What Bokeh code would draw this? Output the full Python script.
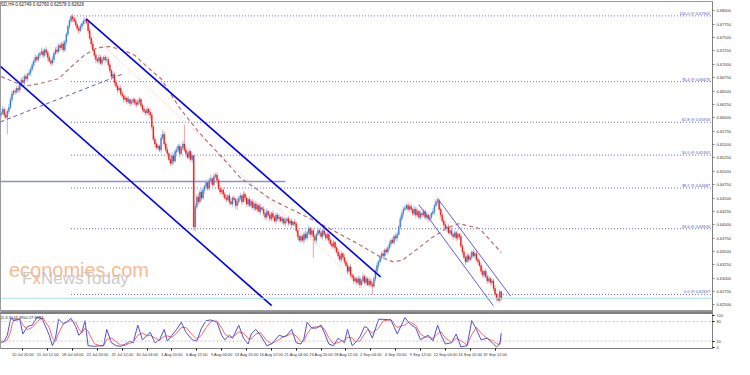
from bokeh.plotting import figure
from bokeh.layouts import column
from bokeh.models import (Range1d, FixedTicker, ColumnDataSource, NumeralTickFormatter,
                          BoxAnnotation, Span)
from bokeh.embed import file_html
from bokeh.resources import INLINE
from bokeh.core.properties import value

# ---------------- data (NZDUSD H4) ----------------
first_open = 0.6605
close = [
    0.6609, 0.6616, 0.6605, 0.6601, 0.6612, 0.6619, 0.6634, 0.6645, 0.6650, 0.6648,
    0.6655, 0.6652, 0.6663, 0.6670, 0.6666, 0.6677, 0.6673, 0.6681, 0.6684, 0.6691,
    0.6699, 0.6706, 0.6713, 0.6709, 0.6717, 0.6720, 0.6724, 0.6717, 0.6727, 0.6722,
    0.6713, 0.6706, 0.6702, 0.6709, 0.6720, 0.6727, 0.6724, 0.6735, 0.6731, 0.6738,
    0.6727, 0.6742, 0.6756, 0.6771, 0.6781, 0.6789, 0.6785, 0.6781, 0.6774, 0.6767,
    0.6763, 0.6771, 0.6776, 0.6781, 0.6783, 0.6778, 0.6763, 0.6749, 0.6738, 0.6727,
    0.6717, 0.6709, 0.6706, 0.6713, 0.6702, 0.6709, 0.6713, 0.6708, 0.6709, 0.6699,
    0.6688, 0.6677, 0.6681, 0.6666, 0.6659, 0.6652, 0.6655, 0.6645, 0.6641, 0.6634,
    0.6637, 0.6630, 0.6634, 0.6627, 0.6630, 0.6634, 0.6628, 0.6625, 0.6630, 0.6634,
    0.6623, 0.6616, 0.6612, 0.6609, 0.6616, 0.6610, 0.6605, 0.6583, 0.6560, 0.6551,
    0.6544, 0.6547, 0.6540, 0.6562, 0.6569, 0.6551, 0.6540, 0.6533, 0.6522, 0.6515,
    0.6529, 0.6519, 0.6537, 0.6540, 0.6547, 0.6533, 0.6544, 0.6551, 0.6540, 0.6533,
    0.6526, 0.6537, 0.6522, 0.6529, 0.6396, 0.6434, 0.6452, 0.6443, 0.6461, 0.6450,
    0.6465, 0.6472, 0.6479, 0.6468, 0.6483, 0.6486, 0.6475, 0.6490, 0.6493, 0.6483,
    0.6468, 0.6461, 0.6465, 0.6457, 0.6450, 0.6447, 0.6454, 0.6443, 0.6439, 0.6450,
    0.6447, 0.6436, 0.6443, 0.6450, 0.6454, 0.6443, 0.6457, 0.6450, 0.6439, 0.6447,
    0.6436, 0.6443, 0.6432, 0.6439, 0.6429, 0.6436, 0.6425, 0.6432, 0.6429, 0.6421,
    0.6414, 0.6425, 0.6418, 0.6411, 0.6421, 0.6414, 0.6407, 0.6418, 0.6411, 0.6414,
    0.6407, 0.6411, 0.6403, 0.6407, 0.6411, 0.6403, 0.6407, 0.6400, 0.6405, 0.6402,
    0.6389, 0.6378, 0.6371, 0.6378, 0.6371, 0.6382, 0.6375, 0.6385, 0.6393, 0.6382,
    0.6389, 0.6378, 0.6371, 0.6382, 0.6389, 0.6385, 0.6378, 0.6389, 0.6382, 0.6375,
    0.6382, 0.6371, 0.6364, 0.6360, 0.6367, 0.6357, 0.6349, 0.6342, 0.6335, 0.6346,
    0.6339, 0.6331, 0.6324, 0.6313, 0.6321, 0.6306, 0.6303, 0.6295, 0.6299, 0.6292,
    0.6299, 0.6288, 0.6295, 0.6303, 0.6292, 0.6299, 0.6288, 0.6295, 0.6288, 0.6285,
    0.6299, 0.6313, 0.6324, 0.6331, 0.6339, 0.6346, 0.6342, 0.6353, 0.6349, 0.6357,
    0.6364, 0.6371, 0.6367, 0.6378, 0.6375, 0.6382, 0.6396, 0.6411, 0.6421, 0.6429,
    0.6432, 0.6436, 0.6429, 0.6434, 0.6429, 0.6421, 0.6429, 0.6418, 0.6425, 0.6414,
    0.6421, 0.6418, 0.6425, 0.6414, 0.6418, 0.6411, 0.6414, 0.6421, 0.6425, 0.6436,
    0.6443, 0.6445, 0.6429, 0.6418, 0.6407, 0.6400, 0.6393, 0.6396, 0.6385, 0.6389,
    0.6382, 0.6378, 0.6385, 0.6375, 0.6382, 0.6378, 0.6360, 0.6349, 0.6339, 0.6331,
    0.6342, 0.6335, 0.6339, 0.6349, 0.6342, 0.6346, 0.6335, 0.6331, 0.6324, 0.6313,
    0.6306, 0.6313, 0.6303, 0.6295, 0.6299, 0.6292, 0.6295, 0.6281, 0.6270, 0.6263,
    0.6259, 0.62749, 0.62626,
]
upper_wick_pips = [
    4, 6, 3, 5, 4, 7, 5, 6, 3, 5, 4, 6, 3, 5, 7, 4, 5, 3, 6, 4,
    5, 4, 6, 3, 5, 4, 7, 5, 3, 6, 4, 5, 3, 6, 4, 5, 7, 3, 5, 4,
    6, 4, 5, 3, 4, 1.5, 5, 4, 6, 3, 5, 4, 3, 5, 6, 4, 3, 5, 4, 6,
    4, 5, 3, 6, 4, 5, 3, 4, 6, 5, 4, 3, 6, 4, 5, 3, 4, 6, 5, 3,
    5, 4, 6, 3, 5, 4, 3, 6, 4, 5, 3, 4, 6, 4, 5, 3, 6, 5, 4, 6,
    4, 5, 3, 6, 8, 5, 4, 6, 3, 5, 7, 4, 5, 6, 4, 5, 3, 6, 36, 5,
    4, 6, 3, 5, 2, 6, 5, 7, 4, 6, 5, 3, 6, 4, 5, 7, 3, 6, 4, 5,
    4, 6, 3, 5, 4, 6, 3, 5, 7, 4, 5, 3, 6, 4, 5, 3, 6, 4, 5, 3,
    6, 4, 5, 3, 6, 4, 5, 7, 3, 5, 4, 6, 3, 5, 4, 6, 3, 5, 4, 6,
    3, 5, 4, 6, 3, 5, 4, 5, 3, 6, 4, 5, 3, 6, 4, 5, 7, 4, 5, 3,
    6, 4, 5, 3, 6, 4, 5, 3, 6, 4, 5, 3, 4, 6, 5, 3, 4, 6, 4, 5,
    3, 6, 4, 5, 3, 6, 4, 5, 3, 4, 6, 5, 3, 6, 4, 5, 3, 4, 6, 5,
    4, 5, 6, 3, 5, 4, 6, 3, 5, 4, 6, 3, 5, 4, 7, 5, 4, 6, 5, 4,
    5, 3, 6, 4, 5, 3, 6, 4, 5, 3, 6, 4, 5, 3, 6, 4, 5, 3, 6, 4,
    5, 6, 4, 3, 5, 4, 6, 3, 5, 4, 6, 3, 5, 4, 6, 3, 5, 4, 6, 3,
    5, 4, 6, 3, 5, 4, 6, 3, 5, 4, 6, 3, 5, 4, 6, 3, 5, 4, 6, 3,
    5, 4, 1.1,
]
lower_wick_pips = [
    5, 3, 6, 4, 32, 5, 3, 6, 4, 5, 3, 6, 4, 5, 3, 6, 4, 5, 3, 6,
    4, 5, 3, 6, 4, 5, 3, 6, 4, 5, 7, 3, 5, 4, 6, 3, 5, 4, 6, 3,
    5, 4, 6, 3, 5, 4, 6, 3, 5, 4, 6, 3, 5, 4, 6, 3, 5, 4, 6, 3,
    5, 7, 4, 6, 3, 5, 4, 6, 3, 5, 4, 6, 3, 5, 4, 6, 3, 5, 4, 6,
    3, 5, 4, 6, 3, 5, 4, 6, 3, 5, 4, 6, 3, 5, 4, 6, 7, 5, 4, 6,
    3, 5, 4, 6, 3, 5, 4, 6, 3, 5, 4, 6, 3, 5, 4, 6, 3, 5, 4, 6,
    3, 5, 4, 6, 7, 9, 4, 6, 3, 5, 4, 6, 3, 5, 4, 6, 3, 5, 4, 6,
    3, 5, 4, 6, 3, 5, 4, 6, 3, 5, 4, 6, 8, 5, 4, 6, 3, 5, 4, 6,
    3, 5, 4, 6, 3, 5, 4, 6, 3, 5, 4, 6, 3, 5, 4, 6, 3, 5, 4, 6,
    3, 5, 4, 6, 3, 5, 4, 6, 3, 5, 4, 6, 3, 5, 4, 6, 3, 5, 4, 6,
    3, 40, 4, 6, 3, 5, 4, 6, 3, 5, 4, 6, 3, 5, 4, 6, 3, 5, 4, 6,
    3, 5, 4, 6, 3, 5, 4, 6, 3, 5, 4, 6, 3, 5, 4, 6, 3, 5, 4, 15,
    3, 5, 4, 6, 3, 5, 4, 6, 3, 5, 4, 6, 3, 5, 4, 6, 3, 5, 4, 6,
    3, 5, 4, 6, 3, 5, 4, 6, 3, 5, 4, 6, 3, 5, 4, 6, 3, 5, 4, 6,
    3, 5, 4, 6, 3, 5, 4, 6, 3, 5, 4, 6, 3, 5, 4, 6, 3, 5, 4, 6,
    3, 5, 4, 6, 3, 5, 4, 6, 3, 5, 4, 6, 3, 5, 4, 6, 3, 5, 4, 6,
    3, 5, 4.8,
]

time_tick_bar = [8, 24, 40, 56, 72, 88, 104, 120, 136, 152, 168, 184, 200, 216,
                 232, 248, 264, 280, 296, 312]
time_tick_label = ["10 Jul 20:00", "15 Jul 12:00", "18 Jul 04:00", "22 Jul 20:00",
                   "25 Jul 12:00", "30 Jul 04:00", "1 Aug 20:00", "6 Aug 12:00",
                   "9 Aug 04:00", "13 Aug 20:00", "16 Aug 12:00", "21 Aug 04:00",
                   "23 Aug 20:00", "28 Aug 12:00", "2 Sep 04:00", "4 Sep 20:00",
                   "9 Sep 12:00", "12 Sep 04:00", "16 Sep 20:00", "19 Sep 12:00"]
price_ticks = [0.6250, 0.6275, 0.6300, 0.6325, 0.6350, 0.6375, 0.6400, 0.6425, 0.6450,
               0.6475, 0.6500, 0.6525, 0.6550, 0.6575, 0.6600, 0.6625, 0.6650, 0.6675,
               0.6700, 0.6725, 0.6750, 0.6775, 0.6800]

fib_pct = ["100.0", "76.4", "61.8", "50.0", "38.2", "23.6", "0.0"]
fib_price = [0.67905, 0.66676, 0.65916, 0.65301, 0.64687, 0.63926, 0.62697]
fib_anchor_bar = [45, 238]
fib_anchor_price = [0.67905, 0.62697]

ma_bar = [0, 15, 25, 37, 45, 54, 62, 70, 78, 86, 94, 103, 108, 115, 127, 140, 154, 174,
          205, 228, 244, 252, 258, 269, 277, 287, 295, 308, 322]
ma_price = [0.6677, 0.6659, 0.6664, 0.6673, 0.6695, 0.6718, 0.6731, 0.6733, 0.6727,
            0.6717, 0.6695, 0.6673, 0.6650, 0.6618, 0.6574, 0.6533, 0.6488, 0.6447,
            0.6403, 0.6367, 0.6340, 0.6331, 0.6333, 0.6357, 0.6375, 0.6394, 0.6402,
            0.6393, 0.6348]

channel_upper_bar = [54.8, 244.3]
channel_upper_price = [0.6785, 0.63026]
channel_lower_bar = [-0.4, 174.2]
channel_lower_price = [0.6696, 0.62486]
trend_dash_bar = [-0.4, 78.8]
trend_dash_price = [0.65924, 0.66824]
small_upper_bar = [281.2, 328.0]
small_upper_price = [0.64484, 0.62666]
small_lower_bar = [268.9, 316.9]
small_lower_price = [0.64376, 0.62486]
hline_bar = [-0.4, 183.0]
hline_price = [0.6481, 0.6481]
bid_price = 0.62626

stoch_bar = [0, 2, 4, 6, 7, 8, 12, 14, 17, 20, 23, 25, 27, 31, 33, 35, 37, 40, 42, 45,
             48, 50, 52, 54, 56, 60, 64, 66, 68, 71, 74, 77, 80, 83, 85, 88, 91, 94, 96, 99,
             102, 105, 107, 110, 113, 116, 119, 123, 126, 129, 132, 135, 139, 142, 144, 147,
             149, 153, 156, 159, 161, 164, 167, 171, 174, 179, 182, 184, 187, 190, 193, 195,
             197, 200, 203, 206, 208, 211, 214, 217, 221, 223, 226, 228, 231, 234, 236, 239,
             243, 246, 251, 255, 260, 263, 267, 270, 273, 275, 278, 281, 283, 286, 290, 293,
             296, 300, 303, 306, 309, 313, 317, 319, 321, 322]
stoch_k = [15, 20, 38, 87, 92, 83, 87, 42, 65, 69, 92, 94, 83, 38, 6, 29, 87, 74, 78, 90,
           65, 38, 47, 83, 6, 4, 6, 6, 56, 15, 6, 4, 11, 20, 15, 69, 24, 38, 47, 15,
           24, 56, 20, 38, 56, 78, 47, 24, 20, 60, 83, 85, 78, 38, 24, 38, 29, 69, 29, 11,
           42, 56, 38, 6, 11, 38, 33, 38, 56, 15, 11, 29, 78, 60, 60, 69, 47, 11, 6, 29,
           15, 56, 6, 15, 33, 65, 60, 29, 87, 87, 85, 42, 92, 74, 60, 24, 33, 38, 20, 69,
           42, 11, 15, 42, 2, 6, 83, 56, 24, 29, 11, 2, 11, 44.495]
stoch_d = [22, 17, 24, 48, 70, 85, 88, 70, 55, 62, 78, 88, 90, 62, 30, 18, 45, 72, 78, 82,
           78, 58, 45, 60, 50, 12, 5, 6, 25, 30, 18, 8, 7, 14, 16, 38, 45, 36, 38, 30,
           22, 35, 36, 32, 44, 62, 62, 40, 26, 38, 62, 80, 82, 60, 42, 32, 32, 48, 45, 28,
           26, 42, 46, 22, 12, 25, 34, 36, 44, 36, 18, 20, 42, 62, 64, 64, 58, 30, 12, 16,
           22, 32, 30, 18, 20, 42, 55, 45, 60, 82, 86, 62, 70, 80, 68, 42, 32, 33, 28, 42,
           50, 30, 16, 28, 22, 8, 40, 62, 45, 28, 20, 12, 10, 27.856]
stoch_levels = [20, 80]
stoch_ticks = [0, 20, 80, 100]

title_text = "SD,H4  0.62749 0.62760 0.62578 0.62626"
stoch_text = "(5,3,3) 44.4950 27.8563"

# ---------------- build ----------------
FONT = "Liberation Sans"
W = 734
X_END = 458

opens = [first_open] + close[:-1]
highs = [max(o, c) + u / 10000 for o, c, u in zip(opens, close, upper_wick_pips)]
lows = [min(o, c) - l / 10000 for o, c, l in zip(opens, close, lower_wick_pips)]
n = min(len(highs), len(lows))
bars = list(range(n))


def candle_source(bull):
    idx = [i for i in bars if (close[i] >= opens[i]) == bull]
    return ColumnDataSource(dict(x=[bars[i] for i in idx], o=[opens[i] for i in idx],
                                 c=[close[i] for i in idx], h=[highs[i] for i in idx],
                                 l=[lows[i] for i in idx]))


x_range = Range1d(-0.4, X_END)

p1 = figure(width=W, height=311, x_range=x_range, y_range=Range1d(0.62378, 0.68174),
            output_backend="svg", toolbar_location=None, y_axis_location="right",
            x_axis_location=None, min_border_left=0, min_border_right=22,
            min_border_top=1, min_border_bottom=0)
p1.grid.visible = False
p1.outline_line_color = "#9a9a9a"
ya = p1.yaxis[0]
ya.ticker = FixedTicker(ticks=price_ticks)
ya.formatter = NumeralTickFormatter(format="0.00000")
ya.major_label_text_font_size = "4px"
ya.major_label_text_font = FONT
ya.major_label_text_color = "#333333"
ya.major_tick_out = 2
ya.major_tick_in = 0
ya.minor_tick_out = 0
ya.minor_tick_in = 0
ya.major_label_standoff = 2
ya.axis_line_color = "#808080"
ya.major_tick_line_color = "#808080"

# watermark
p1.text(x=[5], y=[0.6316], text=["economies.com"], text_font=value(FONT),
        text_font_size="20px", text_color="#f39a5e", text_alpha=0.7,
        text_baseline="alphabetic")
p1.text(x=[13.5], y=[0.6282], text=["F"], text_font=value(FONT),
        text_font_size="17px", text_color="#c4c4c4", text_alpha=0.9)
p1.text(x=[13.5], y=[0.6282], text=["x"], x_offset=10.4, text_font=value(FONT),
        text_font_size="17px", text_color="#f3a070", text_alpha=0.8)
p1.text(x=[13.5], y=[0.6282], text=["NewsToday"], x_offset=18.9, text_font=value(FONT),
        text_font_size="17px", text_color="#c4c4c4", text_alpha=0.9)

# horizontal levels
p1.add_layout(Span(location=bid_price, dimension="width", line_color="#a6e0ea", line_width=1))
p1.line(hline_bar, hline_price, line_color="#8c8cdc", line_width=1.5)
p1.segment(x0=fib_anchor_bar[0], y0=fib_price, x1=X_END, y1=fib_price,
           line_color="#6f6fd2", line_dash="1 2", line_width=1)
fib_labels = [f"{a} @ {b:.5f}" for a, b in zip(fib_pct, fib_price)]
p1.text(x=X_END - 1.5, y=fib_price, text=fib_labels, text_align="right",
        text_baseline="bottom", text_font=value(FONT), text_font_size="4px",
        text_color="#5050c8")
p1.line(fib_anchor_bar, fib_anchor_price, line_color="#e6a0a0", line_dash="1 2",
        line_width=1, line_alpha=0.8)

# moving average
p1.line(ma_bar, ma_price, line_color="#b87070", line_dash="4 3", line_width=1.2)

# candles
for bull, body_col, wick_col in [(True, "#3f7fc8", "#9fc0e6"), (False, "#ee1a1a", "#f6a0a0")]:
    s = candle_source(bull)
    p1.segment(x0="x", y0="h", x1="x", y1="l", source=s, line_color=wick_col, line_width=1)
    p1.vbar(x="x", width=0.62, top="o", bottom="c", source=s, fill_color=body_col,
            line_color=body_col, line_width=0.4)

# channels
p1.line(channel_upper_bar, channel_upper_price, line_color="#0000ff", line_width=1.6)
p1.line(channel_lower_bar, channel_lower_price, line_color="#0000ff", line_width=1.6)
p1.line(trend_dash_bar, trend_dash_price, line_color="#5a5ad0", line_dash="4 3", line_width=1)
p1.line(small_upper_bar, small_upper_price, line_color="#5c5cf0", line_width=1)
p1.line(small_lower_bar, small_lower_price, line_color="#5c5cf0", line_width=1)

p1.text(x=[-0.3], y=[0.6816], text=[title_text], text_baseline="top",
        text_font=value(FONT), text_font_size="4.5px", text_color="#222222")

# ---------------- stochastic panel ----------------
p2 = figure(width=W, height=48, x_range=x_range, y_range=Range1d(-2.7, 111),
            output_backend="svg", toolbar_location=None, y_axis_location="right",
            min_border_left=0, min_border_right=22, min_border_top=0, min_border_bottom=0)
p2.grid.visible = False
p2.outline_line_color = "#9a9a9a"
p2.add_layout(BoxAnnotation(bottom=103, top=111, fill_color="#808080", fill_alpha=1,
                            line_color=None))
for lv in stoch_levels:
    p2.add_layout(Span(location=lv, dimension="width", line_color="#c4c4c4",
                       line_dash="2 2", line_width=1))
p2.line(stoch_bar, stoch_d, line_color="#ff6464", line_width=1)
p2.line(stoch_bar, stoch_k, line_color="#5050d8", line_width=1)
p2.text(x=[-0.3], y=[101], text=[stoch_text], text_baseline="top",
        text_font=value(FONT), text_font_size="4px", text_color="#222222")

ya2 = p2.yaxis[0]
ya2.ticker = FixedTicker(ticks=stoch_ticks)
ya2.major_label_text_font_size = "4px"
ya2.major_label_text_font = FONT
ya2.major_tick_out = 2
ya2.major_tick_in = 0
ya2.minor_tick_out = 0
ya2.minor_tick_in = 0
ya2.major_label_standoff = 2
ya2.axis_line_color = "#808080"

xa = p2.xaxis[0]
shifted = [b + 6 for b in time_tick_bar]
xa.ticker = FixedTicker(ticks=shifted)
xa.major_label_overrides = {s: lbl for s, lbl in zip(shifted, time_tick_label)}
xa.major_label_text_font_size = "4px"
xa.major_label_text_font = FONT
xa.major_label_text_color = "#333333"
xa.major_tick_out = 2
xa.major_tick_in = 0
xa.minor_tick_out = 0
xa.minor_tick_in = 0
xa.major_label_standoff = 1
xa.axis_line_color = "#808080"

layout = column(p1, p2, spacing=0)
open("out.html", "w").write(file_html(layout, INLINE))
